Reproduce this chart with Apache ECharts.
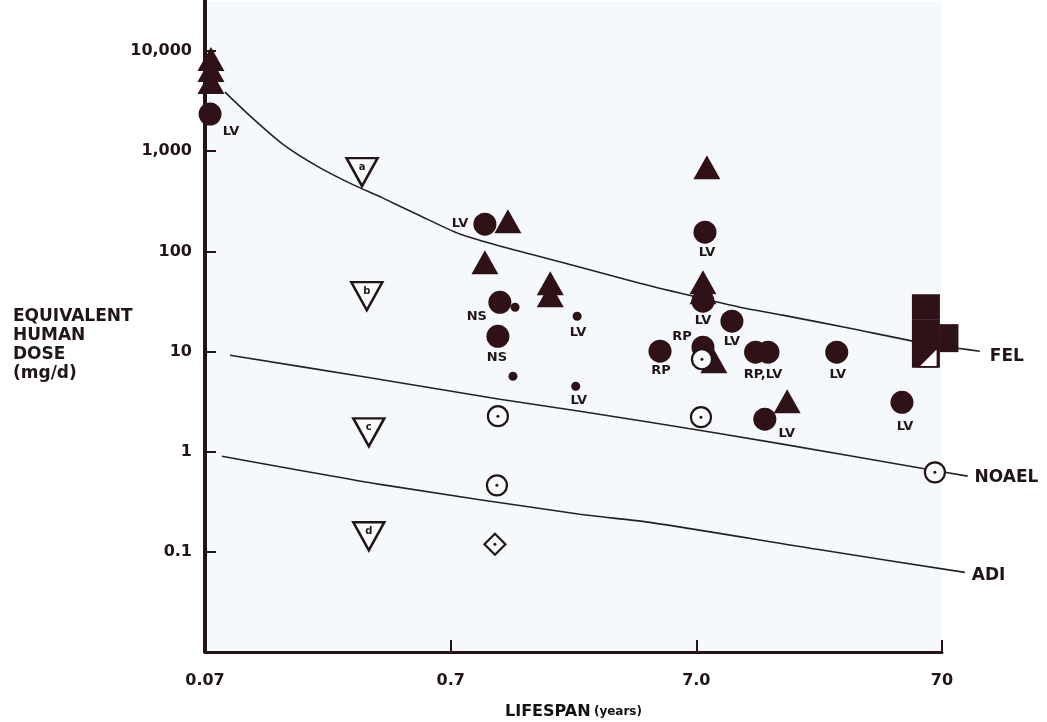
<!DOCTYPE html>
<html>
<head>
<meta charset="utf-8">
<title>Equivalent human dose vs lifespan</title>
<script src="https://cdn.jsdelivr.net/npm/echarts@6/dist/echarts.min.js"></script>
<style>
html, body { margin: 0; padding: 0; background: #fff; }
#chart { width: 1047px; height: 722px; }
</style>
</head>
<body>
<div id="chart"></div>
<script>
// axis ranges and ticks (lifespan in years, dose in mg/d)
const xRange = [0.07, 70]
const lineXRange = [0.07, 100]   // the reference lines run a little past the axis end
const yRange = [0.01, 31600]
const xTicks = [0.07, 0.7, 7.0, 70]
const xTickLabels = ['0.07', '0.7', '7.0', '70']
const yTicks = [0.1, 1, 10, 100, 1000, 10000]
const yTickLabels = ['0.1', '1', '10', '100', '1,000', '10,000']

// reference lines [lifespan, dose]
const felLine = [[0.0844, 3890], [0.107, 2240], [0.145, 1178], [0.2, 710], [0.272, 480], [0.371, 340],
  [0.51, 235], [0.763, 149], [1.19, 108], [2.2, 72.8], [4.12, 48.1], [6.78, 35.7], [10.5, 27.7],
  [15.7, 23.1], [29.5, 17.1], [53.3, 12.7], [81.2, 10.8], [99.8, 10.07]]
const noaelLine = [[0.0885, 9.18], [0.319, 5.53], [1.11, 3.34], [2.35, 2.53], [4.53, 1.97], [15.7, 1.19], [58.5, 0.68], [89, 0.57]]
const adiLine = [[0.082, 0.90], [0.361, 0.472], [2.35, 0.237], [4.53, 0.197], [21.7, 0.106], [86.7, 0.0624]]

// filled circles and their tags
const filledCircles = [[0.0734, 2350], [0.965, 187], [1.11, 31], [1.09, 14.2], [4.98, 10.07], [7.59, 155.6],
  [7.45, 31.8], [9.77, 20.1], [7.45, 11.04], [12.2, 9.84], [13.7, 9.84], [26.1, 9.84], [13.3, 2.11], [48.1, 3.11]]
const circleTags = ['LV', 'LV', 'NS', 'NS', 'RP', 'LV', 'LV', 'LV', 'RP', '', 'RP,LV', 'LV', 'LV', 'LV']
const smallDots = [[1.28, 27.7], [1.255, 5.66], [2.29, 22.5], [2.26, 4.5]]
const dotTags = ['', '', 'LV', 'LV']

const filledTriangles = [[0.074, 8318], [0.074, 6457], [0.074, 4900], [1.197, 200], [0.965, 78], [1.78, 48],
  [1.78, 36.5], [7.73, 693], [7.45, 49.2], [7.45, 39.1], [8.25, 8.0], [16.4, 3.18]]
const filledSquares = [[60.2, 28.0], [60.2, 15.8], [60.2, 9.18]]
const narrowSquares = [[74.7, 13.6]]
const openCorner = [[61.3, 8.77]]

// open symbols
const openCircles = [[7.38, 8.37], [1.09, 2.26], [1.08, 0.461], [7.31, 2.21], [65.5, 0.622]]
const openDiamonds = [[1.06, 0.119]]
const openTriangles = [[0.305, 618], [0.319, 35.7], [0.325, 1.56], [0.325, 0.143]]
const triangleTags = ['a', 'b', 'c', 'd']

const lg = Math.log10
const pt = p => [lg(p[0]), lg(p[1])]
const ink = '#221517'
const mark = '#2e1217'
const font = 'DejaVu Sans'

// layout
const W = 1047
const gridLeft = 205
const gridRight = 105
const perDecade = (W - gridLeft - gridRight) / (lg(xRange[1]) - lg(xRange[0]))
const lineGridRight = W - gridLeft - perDecade * (lg(lineXRange[1]) - lg(lineXRange[0]))

// where each tag sits relative to its mark
const circleTagOffset = [[21, 18], [-25, -1], [-23, 14], [-1, 21], [1, 19], [2, 20], [0, 19], [0, 20],
  [-21, -11], [0, 0], [-5, 22], [1, 22], [22, 14], [3, 24]]
const dotTagOffset = [[0, 0], [0, 0], [1, 16], [3, 14]]

const tagStyle = { color: ink, fontSize: 13, fontWeight: 'bold', fontFamily: font, textBorderWidth: 0 }

const tagged = (pts, tags, offs) => pts.map((p, i) => ({
  value: pt(p),
  label: { show: !!tags[i], formatter: tags[i], position: 'inside', offset: offs[i] }
}))

const refLine = (pts, name, dist, dy) => ({
  type: 'line',
  xAxisIndex: 1,
  yAxisIndex: 1,
  data: pts.map(pt),
  showSymbol: false,
  smooth: 0.25,
  silent: true,
  z: 1,
  lineStyle: { color: '#222', width: 1.6 },
  endLabel: {
    show: true, formatter: name, distance: dist, offset: [0, dy],
    color: ink, fontSize: 17, fontWeight: 'bold', fontFamily: font
  }
})

const solid = color => ({ color: color, opacity: 1 })

const chart = echarts.init(document.getElementById('chart'))
chart.setOption({
  animation: false,
  backgroundColor: '#fff',
  title: {
    text: 'EQUIVALENT\nHUMAN\nDOSE\n(mg/d)',
    left: 13,
    top: 307,
    padding: 0,
    textStyle: { color: ink, fontSize: 17, fontWeight: 'bold', fontFamily: font, lineHeight: 19 }
  },
  grid: [
    { left: gridLeft, right: gridRight, top: 1, bottom: 70, outerBoundsMode: 'none', containLabel: false,
      show: true, backgroundColor: '#f6f9fc', borderWidth: 0 },
    { left: gridLeft, right: lineGridRight, top: 1, bottom: 70, outerBoundsMode: 'none', containLabel: false, show: false }
  ],
  xAxis: [{
    type: 'value',
    min: lg(xRange[0]),
    max: lg(xRange[1]),
    name: '{a|LIFESPAN} {b|(years)}',
    nameLocation: 'middle',
    nameGap: 52,
    nameTextStyle: {
      rich: {
        a: { fontSize: 16, fontWeight: 'bold', fontFamily: font, color: '#111' },
        b: { fontSize: 12, fontWeight: 'bold', fontFamily: font, color: '#111' }
      }
    },
    axisLine: { onZero: false, lineStyle: { color: ink, width: 3 } },
    axisTick: { inside: true, length: 12, lineStyle: { color: ink, width: 2 }, customValues: xTicks.map(lg) },
    axisLabel: {
      customValues: xTicks.map(lg),
      margin: 21,
      color: ink, fontSize: 16, fontWeight: 'bold', fontFamily: font,
      formatter: v => {
        const i = xTicks.findIndex(t => Math.abs(lg(t) - v) < 1e-6)
        return i < 0 ? '' : xTickLabels[i]
      }
    },
    splitLine: { show: false }
  }, {
    type: 'value', gridIndex: 1, show: false,
    min: lg(lineXRange[0]),
    max: lg(lineXRange[1])
  }],
  yAxis: [{
    type: 'value',
    min: lg(yRange[0]),
    max: lg(yRange[1]),
    axisLine: { onZero: false, lineStyle: { color: ink, width: 4 } },
    axisTick: { inside: true, length: 11, lineStyle: { color: ink, width: 2 }, customValues: yTicks.map(lg) },
    axisLabel: {
      customValues: yTicks.map(lg),
      margin: 13,
      color: ink, fontSize: 16, fontWeight: 'bold', fontFamily: font,
      formatter: v => {
        const i = yTicks.findIndex(t => Math.abs(lg(t) - v) < 1e-6)
        return i < 0 ? '' : yTickLabels[i]
      }
    },
    splitLine: { show: false }
  }, {
    type: 'value', gridIndex: 1, show: false,
    min: lg(yRange[0]),
    max: lg(yRange[1])
  }],
  series: [
    refLine(felLine, 'FEL', 10, 5),
    refLine(noaelLine, 'NOAEL', 7, 1),
    refLine(adiLine, 'ADI', 7, 3),
    {
      type: 'scatter', symbol: 'circle', symbolSize: 23, clip: false, z: 2,
      itemStyle: solid(mark),
      label: tagStyle,
      data: tagged(filledCircles, circleTags, circleTagOffset)
    },
    {
      type: 'scatter', symbol: 'circle', symbolSize: 9, clip: false, z: 2,
      itemStyle: solid(mark),
      label: tagStyle,
      data: tagged(smallDots, dotTags, dotTagOffset)
    },
    {
      type: 'scatter', symbol: 'triangle', symbolSize: [27, 24], clip: false, z: 3,
      itemStyle: solid(mark),
      data: filledTriangles.map(pt)
    },
    {
      type: 'scatter', symbol: 'rect', symbolSize: [28, 25], clip: false, z: 3,
      itemStyle: solid(mark),
      data: filledSquares.map(pt)
    },
    {
      type: 'scatter', symbol: 'rect', symbolSize: [19, 28], clip: false, z: 3,
      itemStyle: solid(mark),
      data: narrowSquares.map(pt)
    },
    {
      type: 'scatter', symbol: 'path://M1,0L1,1L0,1Z', symbolSize: 19, clip: false, z: 4,
      itemStyle: { color: '#fff', opacity: 1, borderColor: mark, borderWidth: 1.5 },
      data: openCorner.map(pt)
    },
    {
      type: 'scatter', symbol: 'circle', symbolSize: 20, clip: false, z: 4,
      itemStyle: { color: '#f8fafc', opacity: 1, borderColor: ink, borderWidth: 2.2 },
      data: openCircles.map(pt)
    },
    {
      type: 'scatter', symbol: 'diamond', symbolSize: 21, clip: false, z: 4,
      itemStyle: { color: '#f8fafc', opacity: 1, borderColor: ink, borderWidth: 2.2 },
      data: openDiamonds.map(pt)
    },
    {
      type: 'scatter', symbol: 'circle', symbolSize: 3, clip: false, z: 5,
      itemStyle: solid(ink),
      data: openCircles.concat(openDiamonds).map(pt)
    },
    {
      type: 'scatter', symbol: 'triangle', symbolRotate: 180, symbolSize: [31, 28], clip: false, z: 4,
      itemStyle: { color: '#f8fafc', opacity: 1, borderColor: ink, borderWidth: 2.5 },
      label: { show: true, position: 'inside', offset: [0, -5], color: ink, fontSize: 10, fontWeight: 'bold', fontFamily: font, textBorderWidth: 0 },
      data: openTriangles.map((p, i) => ({ value: pt(p), label: { formatter: triangleTags[i] } }))
    }
  ]
})
</script>
</body>
</html>
